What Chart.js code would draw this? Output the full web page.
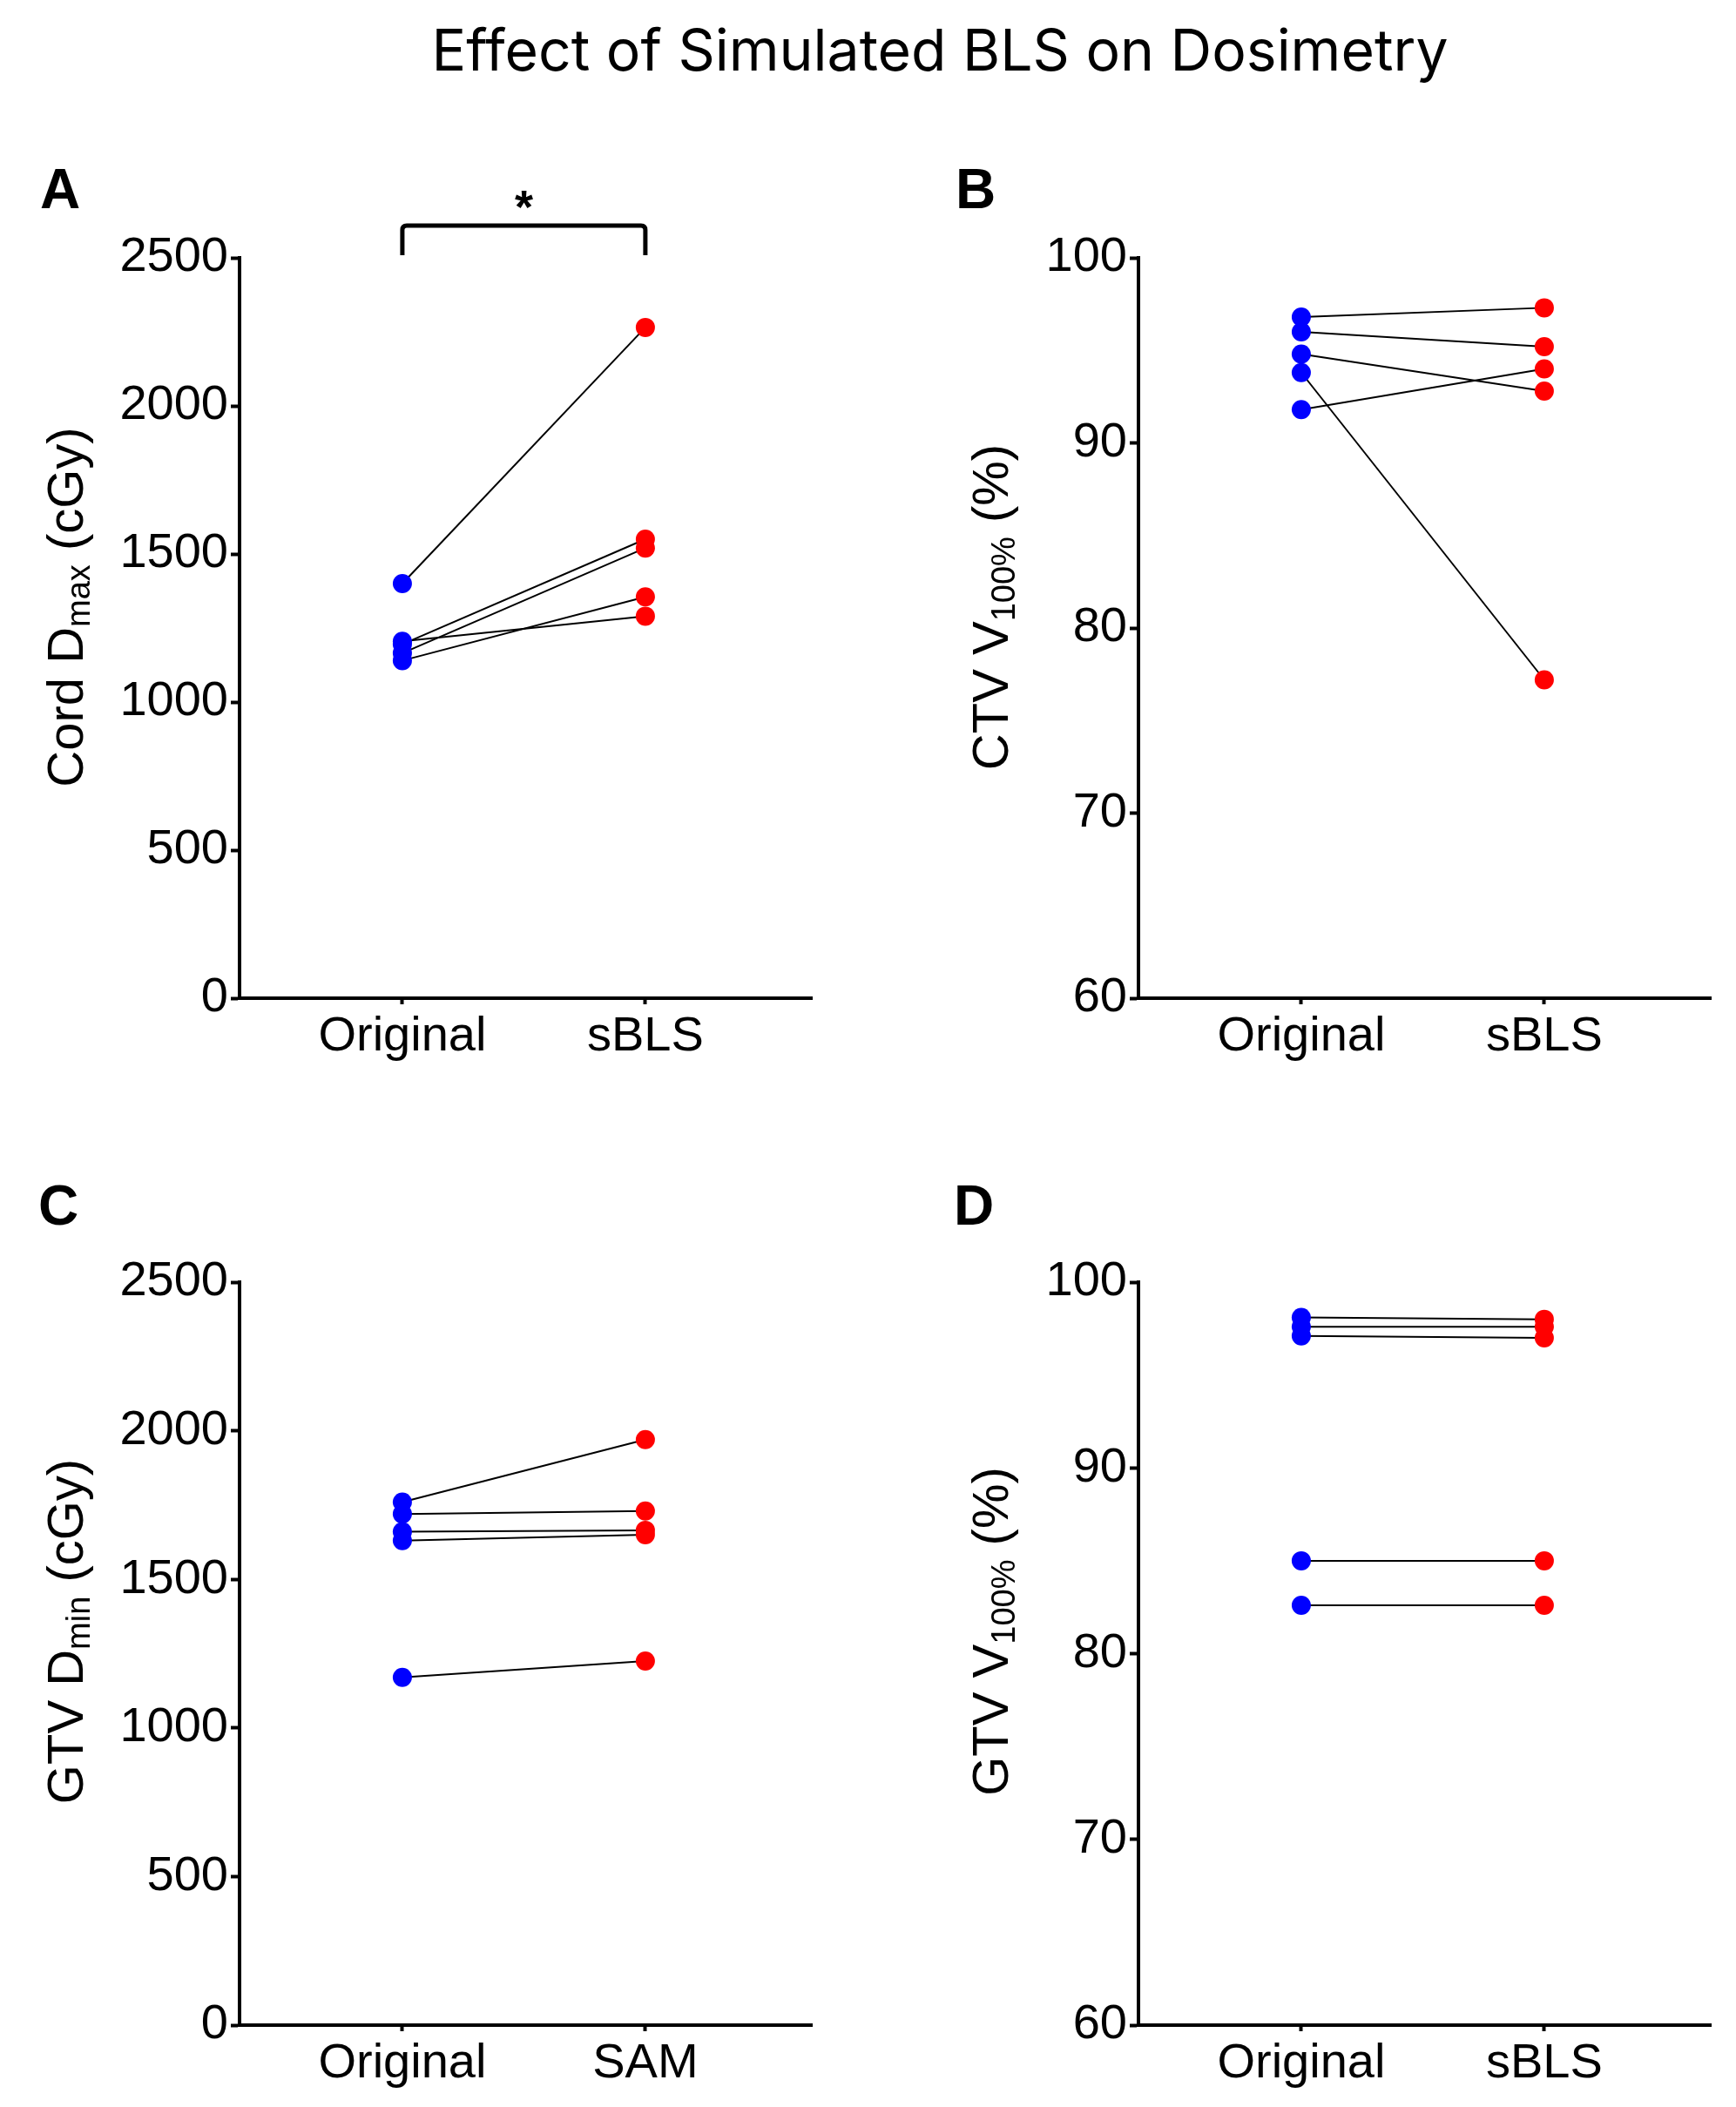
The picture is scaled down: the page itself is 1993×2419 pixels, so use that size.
<!DOCTYPE html>
<html>
<head>
<meta charset="utf-8">
<script src="https://cdn.jsdelivr.net/npm/chart.js@4.4.0/dist/chart.umd.min.js"></script>
<style>
html,body{margin:0;padding:0;background:#fff;}
#page{position:relative;width:1993px;height:2419px;background:#fff;overflow:hidden;}
canvas{position:absolute;}
#ttl{position:absolute;left:0;top:0;pointer-events:none;}
</style>
</head>
<body>
<div id="page">
<canvas id="cA" width="1000" height="1300" style="left:0px;top:0px"></canvas>
<canvas id="cB" width="993" height="1300" style="left:1000px;top:0px"></canvas>
<canvas id="cC" width="1000" height="1119" style="left:0px;top:1300px"></canvas>
<canvas id="cD" width="993" height="1119" style="left:1000px;top:1300px"></canvas>
<svg id="ttl" width="1993" height="140" xmlns="http://www.w3.org/2000/svg">
<text x="1079" y="81" text-anchor="middle" font-family="Inter, 'Open Sans', sans-serif" font-size="66" fill="#000">Effect of Simulated BLS on Dosimetry</text>
</svg>
</div>
<script>
// ---- data ----
const groupsAB = ['Original', 'sBLS'];
const groupsC = ['Original', 'SAM'];
const cordDmaxOriginal = [1400, 1195, 1205, 1165, 1140];
const cordDmaxSBLS = [2265, 1550, 1290, 1520, 1355];
const ctvV100Original = [96.8, 96.0, 94.8, 93.8, 91.8];
const ctvV100SBLS = [97.3, 95.2, 92.8, 77.2, 94.0];
const gtvDminOriginal = [1760, 1720, 1660, 1630, 1170];
const gtvDminSAM = [1970, 1730, 1665, 1650, 1225];
const gtvV100Original = [98.1, 97.6, 97.1, 85.0, 82.6];
const gtvV100SBLS = [98.0, 97.6, 97.0, 85.0, 82.6];
const doseTicks = [0, 500, 1000, 1500, 2000, 2500];
const pctTicks = [60, 70, 80, 90, 100];

const FONT = "'Liberation Sans', Arial, Helvetica, sans-serif";
const BLUE = '#0000ff';
const RED = '#ff0000';

const panelText = {
  id: 'panelText',
  afterDraw(chart, args, o) {
    const ctx = chart.ctx;
    ctx.save();
    ctx.fillStyle = '#000';
    ctx.textBaseline = 'alphabetic';
    // panel letter
    ctx.font = 'bold 64px ' + FONT;
    ctx.textAlign = 'left';
    ctx.fillText(o.letter, o.letterX, o.letterY);
    // y axis title with subscript
    ctx.translate(o.titleX, o.titleY);
    ctx.rotate(-Math.PI / 2);
    const mainFont = '58px ' + FONT, subFont = '38px ' + FONT;
    let total = 0;
    o.titleParts.forEach(p => { ctx.font = p.sub ? subFont : mainFont; p.w = ctx.measureText(p.t).width; total += p.w; });
    let x = -total / 2;
    o.titleParts.forEach(p => {
      ctx.font = p.sub ? subFont : mainFont;
      ctx.fillText(p.t, x, p.sub ? 8 : 0);
      x += p.w;
    });
    ctx.restore();
    // significance bracket
    if (o.bracket) {
      const xs = chart.scales.x;
      const x0 = xs.getPixelForValue(0), x1 = xs.getPixelForValue(1);
      const yt = 259, yb = 293;
      ctx.save();
      ctx.strokeStyle = '#000';
      ctx.lineWidth = 5;
      ctx.lineJoin = 'round';
      ctx.beginPath();
      ctx.moveTo(x0, yb);
      ctx.lineTo(x0, yt + 5);
      ctx.quadraticCurveTo(x0, yt, x0 + 5, yt);
      ctx.lineTo(x1 - 5, yt);
      ctx.quadraticCurveTo(x1, yt, x1, yt + 5);
      ctx.lineTo(x1, yb);
      ctx.stroke();
      ctx.fillStyle = '#000';
      ctx.font = 'bold 54px ' + FONT;
      ctx.textAlign = 'center';
      ctx.textBaseline = 'alphabetic';
      ctx.fillText('*', (x0 + x1) / 2, 256);
      ctx.restore();
    }
  }
};

function makePanel(id, p) {
  const lineSets = p.before.map((b, i) => ({
    data: [{ x: 0, y: b }, { x: 1, y: p.after[i] }],
    showLine: true, borderColor: '#000', borderWidth: 2,
    pointRadius: 0, pointHoverRadius: 0, fill: false, order: 2
  }));
  const pointSets = [
    { data: p.before.map(v => ({ x: 0, y: v })), showLine: false, pointRadius: 11, pointHoverRadius: 11,
      pointBackgroundColor: BLUE, pointBorderColor: BLUE, pointBorderWidth: 0, order: 1 },
    { data: p.after.map(v => ({ x: 1, y: v })), showLine: false, pointRadius: 11, pointHoverRadius: 11,
      pointBackgroundColor: RED, pointBorderColor: RED, pointBorderWidth: 0, order: 1 }
  ];
  return new Chart(document.getElementById(id), {
    type: 'scatter',
    data: { datasets: lineSets.concat(pointSets) },
    options: {
      responsive: false, animation: false, devicePixelRatio: 1,
      layout: { padding: { left: 0, top: p.padTop, right: p.padRight, bottom: 0 } },
      plugins: { legend: { display: false }, tooltip: { enabled: false }, panelText: p.text },
      scales: {
        x: {
          type: 'linear', min: -0.670, max: 1.685,
          afterBuildTicks: s => { s.ticks = [{ value: 0 }, { value: 1 }]; },
          afterFit: s => { s.height = p.xHeight; },
          ticks: { callback: v => p.groups[v], font: { size: 56, family: FONT }, color: '#000', padding: 4, maxRotation: 0, autoSkip: false },
          grid: { drawOnChartArea: false, drawTicks: true, tickLength: 7, tickWidth: 4, color: '#000' },
          border: { display: true, width: 4, color: '#000' }
        },
        y: {
          type: 'linear', min: p.yTicks[0], max: p.yTicks[p.yTicks.length - 1],
          afterBuildTicks: s => { s.ticks = p.yTicks.map(v => ({ value: v })); },
          afterFit: s => { s.width = p.yWidth; },
          ticks: { callback: v => String(v), font: { size: 56, family: FONT }, color: '#000', padding: 3 },
          grid: { drawOnChartArea: false, drawTicks: true, tickLength: 10, tickWidth: 4, color: '#000' },
          border: { display: true, width: 4, color: '#000' }
        }
      }
    },
    plugins: [panelText]
  });
}

makePanel('cA', {
  before: cordDmaxOriginal, after: cordDmaxSBLS, groups: groupsAB, yTicks: doseTicks,
  padTop: 296, padRight: 68, xHeight: 154, yWidth: 275,
  text: { letter: 'A', letterX: 46, letterY: 239, titleX: 95, titleY: 697, bracket: true,
    titleParts: [{ t: 'Cord D' }, { t: 'max', sub: true }, { t: ' (cGy)' }] }
});
makePanel('cB', {
  before: ctvV100Original, after: ctvV100SBLS, groups: groupsAB, yTicks: pctTicks,
  padTop: 296, padRight: 29, xHeight: 154, yWidth: 307,
  text: { letter: 'B', letterX: 97, letterY: 239, titleX: 157, titleY: 697,
    titleParts: [{ t: 'CTV V' }, { t: '100%', sub: true }, { t: ' (%)' }] }
});
makePanel('cC', {
  before: gtvDminOriginal, after: gtvDminSAM, groups: groupsC, yTicks: doseTicks,
  padTop: 172, padRight: 68, xHeight: 94, yWidth: 275,
  text: { letter: 'C', letterX: 44, letterY: 106, titleX: 95, titleY: 573,
    titleParts: [{ t: 'GTV D' }, { t: 'min', sub: true }, { t: ' (cGy)' }] }
});
makePanel('cD', {
  before: gtvV100Original, after: gtvV100SBLS, groups: groupsAB, yTicks: pctTicks,
  padTop: 172, padRight: 29, xHeight: 94, yWidth: 307,
  text: { letter: 'D', letterX: 95, letterY: 106, titleX: 157, titleY: 573,
    titleParts: [{ t: 'GTV V' }, { t: '100%', sub: true }, { t: ' (%)' }] }
});
</script>
</body>
</html>
